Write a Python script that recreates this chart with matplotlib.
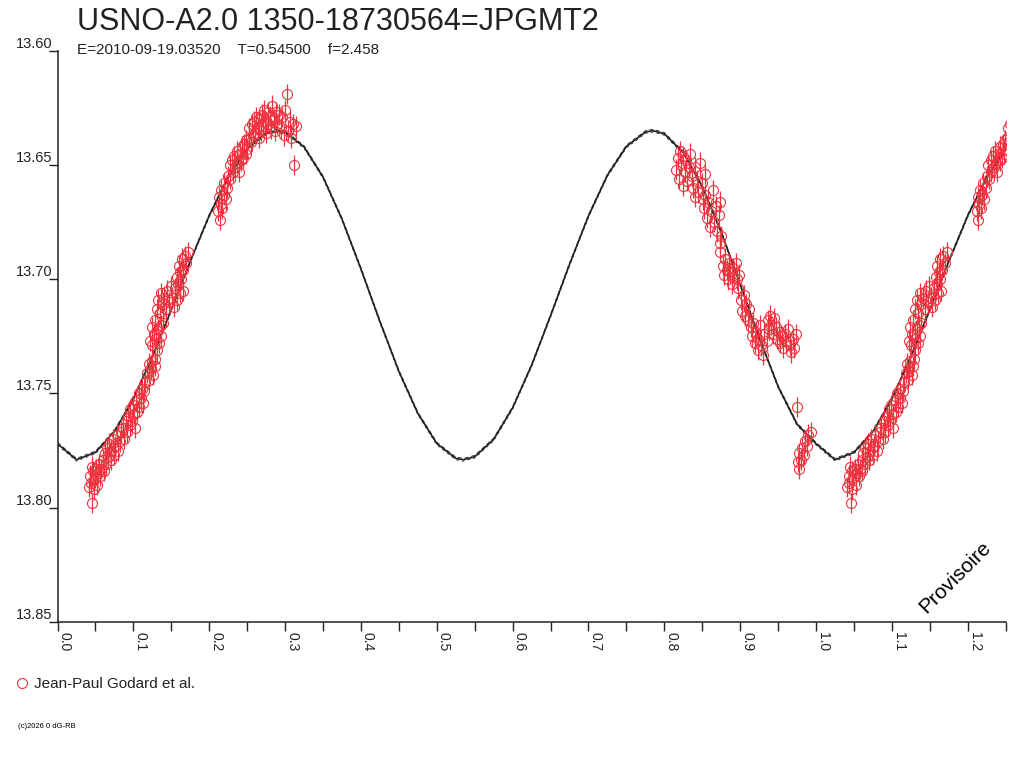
import matplotlib
matplotlib.use("Agg")
import matplotlib.pyplot as plt
from matplotlib.ticker import MultipleLocator, FormatStrFormatter
import numpy as np

plt.rcParams['font.family'] = ['Liberation Sans', 'DejaVu Sans']

TITLE = "USNO-A2.0 1350-18730564=JPGMT2"
SUBTITLE = "E=2010-09-19.03520    T=0.54500    f=2.458"
LEGEND = "Jean-Paul Godard et al."
COPYRIGHT = "(c)2026 0 dG-RB"
WATERMARK = "Provisoire"

# Fitted light curve (phase, magnitude), one cycle
fit_phase = [0.000, 0.025, 0.050, 0.075, 0.100, 0.125, 0.150, 0.175, 0.200, 0.225,
             0.250, 0.275, 0.290, 0.300, 0.325, 0.350, 0.375, 0.400, 0.425, 0.450,
             0.475, 0.500, 0.525, 0.535, 0.550, 0.575, 0.600, 0.625, 0.650, 0.675,
             0.700, 0.725, 0.750, 0.775, 0.785, 0.800, 0.825, 0.850, 0.875, 0.900,
             0.925, 0.950, 0.975, 1.000]
fit_mag = [13.7720, 13.7790, 13.7758, 13.7667, 13.7524, 13.7339, 13.7134, 13.6922, 13.6722, 13.6554,
           13.6430, 13.6362, 13.6350, 13.6356, 13.6421, 13.6553, 13.6737, 13.6955, 13.7185, 13.7403,
           13.7587, 13.7719, 13.7784, 13.7790, 13.7777, 13.7701, 13.7563, 13.7377, 13.7160, 13.6935,
           13.6723, 13.6545, 13.6419, 13.6356, 13.6350, 13.6364, 13.6446, 13.6595, 13.6794, 13.7023,
           13.7256, 13.7470, 13.7635, 13.7720]

# Observations (phase, magnitude)
ph_n1 = [0.041, 0.043, 0.044, 0.045, 0.046, 0.047, 0.048, 0.049, 0.051, 0.052, 0.053, 0.055, 0.056, 0.058,
         0.060, 0.061, 0.062, 0.064, 0.065, 0.067, 0.068, 0.070, 0.071, 0.073, 0.075, 0.076, 0.078, 0.080,
         0.082, 0.084, 0.086, 0.088, 0.090, 0.091, 0.093, 0.095, 0.096, 0.098, 0.099, 0.101, 0.102, 0.104,
         0.105, 0.107, 0.108, 0.110, 0.111, 0.113, 0.114, 0.116, 0.118, 0.120, 0.121, 0.123, 0.124, 0.126,
         0.128, 0.129]
mg_n1 = [13.791, 13.786, 13.789, 13.782, 13.798, 13.784, 13.792, 13.787, 13.783, 13.790, 13.785, 13.781, 13.786, 13.783,
         13.779, 13.784, 13.776, 13.781, 13.774, 13.778, 13.772, 13.779, 13.775, 13.770, 13.777, 13.773, 13.768, 13.775,
         13.771, 13.767, 13.765, 13.770, 13.762, 13.767, 13.760, 13.764, 13.757, 13.762, 13.755, 13.759, 13.765, 13.753,
         13.758, 13.750, 13.756, 13.752, 13.748, 13.754, 13.749, 13.745, 13.741, 13.737, 13.744, 13.739, 13.736, 13.742,
         13.738, 13.735]

ph_n2 = [0.122, 0.124, 0.125, 0.127, 0.128, 0.130, 0.131, 0.133, 0.134, 0.136, 0.137, 0.139,
         0.131, 0.133, 0.135, 0.137, 0.139, 0.141, 0.143, 0.145, 0.147, 0.149, 0.151, 0.153,
         0.155, 0.157, 0.159, 0.161, 0.163, 0.165, 0.158, 0.160, 0.162, 0.164, 0.166, 0.168,
         0.170, 0.172]
mg_n2 = [13.727, 13.721, 13.729, 13.724, 13.718, 13.726, 13.731, 13.722, 13.728, 13.720, 13.725, 13.719,
         13.713, 13.709, 13.715, 13.706, 13.711, 13.708, 13.713, 13.705, 13.710, 13.703, 13.708, 13.712,
         13.704, 13.709, 13.702, 13.706, 13.700, 13.705, 13.699, 13.694, 13.697, 13.691, 13.696, 13.690,
         13.693, 13.688]

ph_n3 = [0.212, 0.213, 0.214, 0.215, 0.216, 0.217, 0.219, 0.220, 0.222, 0.224,
         0.225, 0.227, 0.228, 0.230, 0.231, 0.233, 0.234, 0.236, 0.237, 0.239, 0.240, 0.242,
         0.243, 0.245, 0.246, 0.248, 0.249, 0.250, 0.252, 0.253, 0.255, 0.256, 0.258, 0.259,
         0.261, 0.262, 0.264, 0.265, 0.266, 0.268, 0.269, 0.271, 0.272, 0.274, 0.275, 0.277,
         0.278, 0.280, 0.282, 0.283, 0.285, 0.287, 0.288, 0.290, 0.292, 0.294, 0.296, 0.298,
         0.300, 0.302, 0.304, 0.306, 0.308, 0.310, 0.312, 0.315]
mg_n3 = [13.670, 13.664, 13.674, 13.667, 13.661, 13.669, 13.663, 13.658, 13.665, 13.660,
         13.655, 13.650, 13.656, 13.648, 13.653, 13.646, 13.651, 13.644, 13.649, 13.653, 13.645, 13.648,
         13.642, 13.647, 13.641, 13.645, 13.639, 13.643, 13.638, 13.634, 13.640, 13.632, 13.637, 13.631,
         13.636, 13.629, 13.634, 13.638, 13.630, 13.635, 13.628, 13.633, 13.626, 13.631, 13.636, 13.627,
         13.632, 13.629, 13.634, 13.624, 13.630, 13.635, 13.627, 13.632, 13.628, 13.634, 13.629, 13.637,
         13.626, 13.619, 13.635, 13.631, 13.638, 13.632, 13.650, 13.633]

ph_n4 = [0.816, 0.818, 0.819, 0.821, 0.822, 0.824, 0.825, 0.827, 0.829, 0.830, 0.832, 0.834,
         0.836, 0.838, 0.840, 0.841, 0.843, 0.845, 0.847, 0.849, 0.851, 0.853,
         0.852, 0.854, 0.856, 0.858, 0.860, 0.862, 0.864, 0.866, 0.868, 0.870, 0.872, 0.874,
         0.873, 0.875, 0.874,
         0.877, 0.879, 0.880, 0.882, 0.884, 0.885, 0.887, 0.889, 0.890, 0.892, 0.894, 0.896,
         0.897, 0.899, 0.901, 0.903, 0.905, 0.906, 0.908, 0.910, 0.912]
mg_n4 = [13.652, 13.647, 13.656, 13.644, 13.650, 13.659, 13.646, 13.653, 13.648, 13.657, 13.651, 13.645,
         13.655, 13.660, 13.651, 13.664, 13.657, 13.662, 13.649, 13.658, 13.665, 13.654,
         13.669, 13.663, 13.673, 13.666, 13.677, 13.670, 13.661, 13.675, 13.668, 13.679, 13.672, 13.666,
         13.684, 13.681, 13.688,
         13.694, 13.698, 13.691, 13.696, 13.700, 13.693, 13.697, 13.702, 13.695, 13.699, 13.693, 13.700,
         13.704, 13.698, 13.709, 13.714, 13.707, 13.716, 13.711, 13.718, 13.713]

ph_n5 = [0.914, 0.916, 0.917, 0.919, 0.921, 0.923, 0.924, 0.926, 0.928, 0.930, 0.932, 0.935,
         0.936, 0.938, 0.939, 0.941, 0.943, 0.945, 0.947, 0.949, 0.951, 0.953, 0.955, 0.957,
         0.959, 0.961, 0.963, 0.965, 0.967, 0.969, 0.971, 0.973,
         0.975, 0.976, 0.977, 0.978, 0.980, 0.982, 0.984, 0.986, 0.988, 0.990, 0.993]
mg_n5 = [13.721, 13.725, 13.719, 13.728, 13.723, 13.731, 13.726, 13.720, 13.729, 13.733, 13.724, 13.727,
         13.718, 13.722, 13.716, 13.720, 13.724, 13.717, 13.721, 13.726, 13.723, 13.728, 13.725, 13.730,
         13.724, 13.727, 13.722, 13.729, 13.732, 13.726, 13.730, 13.724,
         13.756, 13.780, 13.783, 13.776, 13.779, 13.774, 13.777, 13.771, 13.773, 13.768, 13.767]

MAG_ERR = 0.0045

x_ticks_major = 0.1
x_ticks_minor = 0.05
y_ticks = [13.60, 13.65, 13.70, 13.75, 13.80, 13.85]

RED = '#ee3340'
DARK = '#222222'

fig = plt.figure(figsize=(10.24, 7.68), dpi=100)
ax = fig.add_axes([57.5 / 1024, 1 - 622 / 768, (1005.7 - 57.5) / 1024, (622 - 50.7) / 768])

# fitted curve, repeated over one extra cycle
fp = np.array(fit_phase)
fm = np.array(fit_mag)
cp = np.concatenate([fp, fp[1:] + 1.0])
cm = np.concatenate([fm, fm[1:]])
ax.plot(cp, cm, color=DARK, lw=1.2, zorder=2)
ax.plot(cp, cm - 0.0006, color=DARK, lw=0.6, ls=(0, (5, 3)), zorder=2)
ax.plot(cp, cm + 0.0006, color=DARK, lw=0.6, ls=(0, (3, 4)), zorder=2)

for ph, mg in [(ph_n1, mg_n1), (ph_n2, mg_n2), (ph_n3, mg_n3), (ph_n4, mg_n4), (ph_n5, mg_n5)]:
    ph = np.array(ph)
    mg = np.array(mg)
    for shift in (0.0, 1.0, -1.0):
        ax.errorbar(ph + shift, mg, yerr=MAG_ERR, fmt='o', mfc='none', mec=RED, ms=7.2, mew=0.8,
                    ecolor=RED, elinewidth=0.9, capsize=0, zorder=3, clip_on=True)

ax.set_xlim(0.0, 1.25)
ax.set_ylim(13.85, 13.60)

ax.xaxis.set_major_locator(MultipleLocator(x_ticks_major))
ax.xaxis.set_minor_locator(MultipleLocator(x_ticks_minor))
ax.xaxis.set_major_formatter(FormatStrFormatter('%.1f'))
ax.set_yticks(y_ticks)
ax.yaxis.set_major_formatter(FormatStrFormatter('%.2f'))

for s in ('top', 'right'):
    ax.spines[s].set_visible(False)
for s in ('left', 'bottom'):
    ax.spines[s].set_color(DARK)
    ax.spines[s].set_linewidth(1.1)

ax.tick_params(axis='x', which='both', direction='out', length=6.5, width=1.0, colors=DARK,
               labelsize=10, pad=1)
ax.tick_params(axis='y', which='major', direction='out', length=6.5, width=1.0, colors=DARK,
               labelsize=10.5, pad=-3)
for lab in ax.get_xticklabels():
    lab.set_rotation(-90)
    lab.set_ha('left')
    lab.set_va('top')
for lab in ax.get_yticklabels():
    lab.set_va('bottom')

fig.text(77 / 1024, 1 - 30 / 768, TITLE, fontsize=22, color=DARK, ha='left', va='baseline')
fig.text(77 / 1024, 1 - 54 / 768, SUBTITLE, fontsize=11, color=DARK, ha='left', va='baseline')

# legend
fig.lines.append(plt.Line2D([22 / 1024], [1 - 683 / 768], transform=fig.transFigure, marker='o',
                            mfc='none', mec=RED, ms=7.2, mew=0.8, ls='none'))
fig.text(34 / 1024, 1 - 688 / 768, LEGEND, fontsize=11, color=DARK, ha='left', va='baseline')
fig.text(18 / 1024, 1 - 728 / 768, COPYRIGHT, fontsize=5.5, color='black', ha='left', va='baseline')

fig.text(955 / 1024, 1 - 577 / 768, WATERMARK, fontsize=15, color='black', rotation=45,
         ha='center', va='center', rotation_mode='anchor')

fig.savefig('out.png', dpi=100, facecolor='white')
